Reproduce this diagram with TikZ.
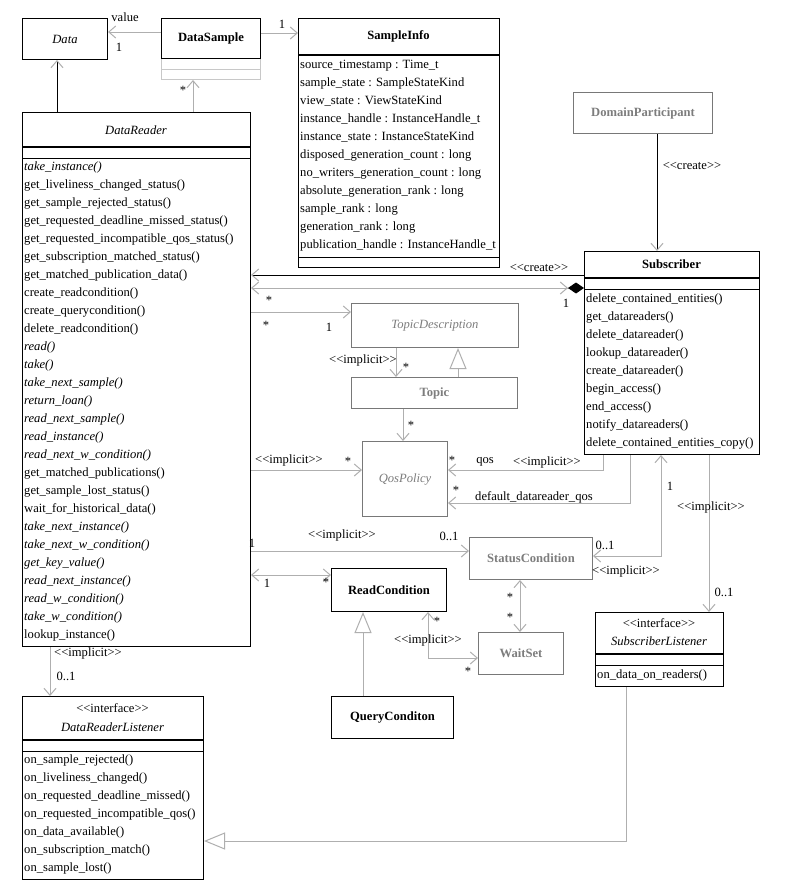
\documentclass[tikz,border=0pt]{standalone}
\usepackage{fontspec}
\setmainfont{Liberation Serif}
\usetikzlibrary{arrows.meta}
\definecolor{linegray}{RGB}{175,175,175}
\definecolor{boxgray}{RGB}{120,120,120}
\definecolor{textgray}{RGB}{125,125,125}
\definecolor{compgray}{RGB}{200,200,200}
\newcommand{\stereo}[1]{\textless\kern0pt\textless#1\textgreater\kern0pt\textgreater}
\newcommand{\uml}{\fontsize{12.6}{15}\selectfont}

\tikzset{
  box/.style={draw, line width=1pt, inner sep=0pt, anchor=north west},
  bbold/.style={box, font=\uml\bfseries},
  greybox/.style={box, draw=boxgray, text=textgray},
  gbold/.style={greybox, font=\uml\bfseries},
  gital/.style={greybox, font=\uml\itshape},
  lbl/.style={inner sep=0pt, font=\uml},
  ttl/.style={lbl, font=\uml\bfseries},
  ttlit/.style={lbl, font=\uml\itshape},
  op/.style={lbl, anchor=base west},
  headline/.style={line width=2.2pt},
  rule/.style={line width=1pt},
  con/.style={draw=linegray, line width=1pt},
  blk/.style={draw=black, line width=1pt},
  nav/.style={-{Straight Barb[length=7pt,width=12pt,color=linegray]}},
  bnav/.style={{Straight Barb[length=7pt,width=12pt,color=linegray]}-{Straight Barb[length=7pt,width=12pt,color=linegray]}},
  gen/.style={-{Triangle[open,length=21pt,width=17pt,fill=white,color=linegray]}},
}

\begin{document}
\begin{tikzpicture}[x=1pt, y=-1pt]
\fill[white] (0,0) rectangle (789,886);
\useasboundingbox (0,0) rectangle (789,886);

% classes
\node[box, font=\uml\itshape, minimum width=85, minimum height=41] (data) at (22,18) {Data};
\node[box, draw=compgray, minimum width=99, minimum height=21] (sampleC) at (161,58) {};
\draw[compgray, rule] (sampleC.west) -- (sampleC.east);
\node[bbold, minimum width=99, minimum height=40] (sample) at (161,18) {DataSample};

\node[box, minimum width=201, minimum height=249] (info) at (298,18) {};
\node[ttl] (infoT) at (398.5,36) {SampleInfo};
\draw[headline] (info.west |- 0,55) -- (info.east |- 0,55);
\draw[rule] (info.west |- 0,257) -- (info.east |- 0,257);
\foreach \a [count=\i from 0] in {source\_timestamp : Time\_t, sample\_state : SampleStateKind,
  view\_state : ViewStateKind, instance\_handle : InstanceHandle\_t, instance\_state : InstanceStateKind,
  disposed\_generation\_count : long, no\_writers\_generation\_count : long,
  absolute\_generation\_rank : long, sample\_rank : long, generation\_rank : long,
  publication\_handle : InstanceHandle\_t}
  \node[op] (info\i) at (300,{68+18*\i}) {\a};

\node[box, minimum width=228, minimum height=534] (reader) at (22,112) {};
\node[ttlit] (readerT) at (136,130) {DataReader};
\draw[headline] (reader.west |- 0,147) -- (reader.east |- 0,147);
\draw[rule] (reader.west |- 0,158) -- (reader.east |- 0,158);
\foreach \m [count=\i from 0] in {\textit{take\_instance()}, get\_liveliness\_changed\_status(),
  get\_sample\_rejected\_status(), get\_requested\_deadline\_missed\_status(),
  get\_requested\_incompatible\_qos\_status(), get\_subscription\_matched\_status(),
  get\_matched\_publication\_data(), create\_readcondition(), create\_querycondition(),
  delete\_readcondition(), \textit{read()}, \textit{take()}, \textit{take\_next\_sample()},
  \textit{return\_loan()}, \textit{read\_next\_sample()}, \textit{read\_instance()},
  \textit{read\_next\_w\_condition()}, get\_matched\_publications(), get\_sample\_lost\_status(),
  wait\_for\_historical\_data(), \textit{take\_next\_instance()}, \textit{take\_next\_w\_condition()},
  \textit{get\_key\_value()}, \textit{read\_next\_instance()}, \textit{read\_w\_condition()},
  \textit{take\_w\_condition()}, lookup\_instance()}
  \node[op] (rop\i) at (24,{170+18*\i}) {\m};

\node[gbold, minimum width=139, minimum height=41] (dp) at (573,92) {DomainParticipant};

\node[box, minimum width=175, minimum height=203] (sub) at (584,251) {};
\node[ttl] (subT) at (671.5,264) {Subscriber};
\draw[headline] (sub.west |- 0,278) -- (sub.east |- 0,278);
\draw[rule] (sub.west |- 0,289) -- (sub.east |- 0,289);
\foreach \m [count=\i from 0] in {delete\_contained\_entities(), get\_datareaders(),
  delete\_datareader(), lookup\_datareader(), create\_datareader(), begin\_access(),
  end\_access(), notify\_datareaders(), delete\_contained\_entities\_copy()}
  \node[op] (sop\i) at (586,{302+18*\i}) {\m};

\node[gital, minimum width=167, minimum height=44] (td) at (351,303) {TopicDescription};
\node[gbold, minimum width=166, minimum height=31] (topic) at (351,377) {Topic};
\node[gital, minimum width=85, minimum height=75] (qos) at (362,441) {QosPolicy};
\node[gbold, minimum width=123, minimum height=42] (sc) at (469,537) {StatusCondition};
\node[bbold, minimum width=115, minimum height=43] (rc) at (331,568) {ReadCondition};
\node[bbold, minimum width=122, minimum height=42] (qc) at (331,696) {QueryConditon};
\node[gbold, minimum width=85, minimum height=42] (ws) at (478,632) {WaitSet};

\node[box, minimum width=128, minimum height=74] (sl) at (595,612) {};
\node[lbl] (slS) at (659,623) {\stereo{interface}};
\node[ttlit] (slT) at (659,641) {SubscriberListener};
\draw[headline] (sl.west |- 0,654) -- (sl.east |- 0,654);
\draw[rule] (sl.west |- 0,665) -- (sl.east |- 0,665);
\node[op] (slop0) at (597,678) {on\_data\_on\_readers()};

\node[box, minimum width=181, minimum height=183] (drl) at (22,696) {};
\node[lbl] (drlS) at (112.5,708) {\stereo{interface}};
\node[ttlit] (drlT) at (112.5,727) {DataReaderListener};
\draw[headline] (drl.west |- 0,740) -- (drl.east |- 0,740);
\draw[rule] (drl.west |- 0,751) -- (drl.east |- 0,751);
\foreach \m [count=\i from 0] in {on\_sample\_rejected(), on\_liveliness\_changed(),
  on\_requested\_deadline\_missed(), on\_requested\_incompatible\_qos(), on\_data\_available(),
  on\_subscription\_match(), on\_sample\_lost()}
  \node[op] (dop\i) at (24,{763+18*\i}) {\m};

% connectors
\draw[con, nav] (sample.west |- 0,32) -- (data.east |- 0,32);
\node[lbl] (lValue) at (125,17) {value};
\node[lbl] (lDataOne) at (119,47) {1};
\draw[con, nav] (sample.east |- 0,33) -- (info.west |- 0,33);
\node[lbl] (lInfoOne) at (282,24) {1};
\draw[blk, nav] (reader.north -| 57,0) -- (data.south -| 57,0);
\draw[con, nav] (reader.north -| 193,0) -- (sampleC.south -| 193,0);
\node[lbl] (lSampleMany) at (183,90) {*};

\draw[blk, nav] (dp.south -| 657,0) -- (sub.north -| 657,0);
\node[lbl] (lCreateS) at (692,166) {\stereo{create}};
\draw[blk, nav] (sub.west |- 0,275) -- (reader.east |- 0,275);
\node[lbl] (lCreateR) at (539,268) {\stereo{create}};
\draw[con, {Straight Barb[length=7pt,width=12pt,color=linegray]}-{Straight Barb[length=7pt,width=12pt,color=linegray] Diamond[length=16pt,width=11pt,color=black,fill=black]}]
  (reader.east |- 0,288) -- (sub.west |- 0,288);
\node[lbl] (lReaderMany) at (269,300) {*};
\node[lbl] (lSubOne) at (566,303) {1};

\draw[con, nav] (reader.east |- 0,312) -- (td.west |- 0,312);
\node[lbl] (lTdMany) at (266,325) {*};
\node[lbl] (lTdOne) at (329,327) {1};
\draw[con, nav] (td.south -| 396,0) -- (topic.north -| 396,0);
\node[lbl] (lTopicImp) at (363,360) {\stereo{implicit}};
\node[lbl] (lTopicMany) at (406,367) {*};
\draw[con, gen] (topic.north -| 458,0) -- (td.south -| 458,0);
\draw[con, nav] (topic.south -| 403,0) -- (qos.north -| 403,0);
\node[lbl] (lQosTopic) at (411,425) {*};

\draw[con, nav] (reader.east |- 0,470) -- (qos.west |- 0,470);
\node[lbl] (lQosImp) at (289,460) {\stereo{implicit}};
\node[lbl] (lQosMany) at (348,461) {*};
\draw[con, nav] (sub.south -| 603,0) |- (qos.east |- 0,470);
\node[lbl] (lQosSubMany) at (452,460) {*};
\node[lbl] (lQosName) at (485,462) {qos};
\node[lbl] (lQosSubImp) at (547,462) {\stereo{implicit}};
\draw[con, nav] (sub.south -| 630,0) |- (qos.east |- 0,503);
\node[lbl] (lDefMany) at (456,490) {*};
\node[lbl, anchor=west] (lDefName) at (475,497) {default\_datareader\_qos};

\draw[con, nav] (reader.east |- 0,551) -- (sc.west |- 0,551);
\node[lbl] (lScOne) at (252,543) {1};
\node[lbl] (lScImp) at (342,535) {\stereo{implicit}};
\node[lbl] (lScOpt) at (449,536) {0..1};
\draw[con, bnav] (reader.east |- 0,575) -- (rc.west |- 0,575);
\node[lbl] (lRcOne) at (267,583) {1};
\node[lbl] (lRcMany) at (326,582) {*};
\draw[con, gen] (qc.north -| 363,0) -- (rc.south -| 363,0);
\draw[con, bnav] (sc.south -| 520,0) -- (ws.north -| 520,0);
\node[lbl] (lWsTop) at (510,597) {*};
\node[lbl] (lWsBot) at (510,617) {*};
\draw[con, bnav] (rc.south -| 428,0) |- (ws.west |- 0,658);
\node[lbl] (lRcWs) at (437,621) {*};
\node[lbl] (lWsImp) at (428,640) {\stereo{implicit}};
\node[lbl] (lWsMany) at (468,671) {*};

\draw[con, bnav] (sub.south -| 661,0) |- (sc.east |- 0,556);
\node[lbl] (lSubScOne) at (670,486) {1};
\node[lbl] (lSubScOpt) at (605,545) {0..1};
\node[lbl] (lSubScImp) at (626,571) {\stereo{implicit}};
\draw[con, nav] (sub.south -| 709,0) -- (sl.north -| 709,0);
\node[lbl] (lSlImp) at (711,507) {\stereo{implicit}};
\node[lbl] (lSlOpt) at (724,592) {0..1};
\draw[con, gen] (sl.south -| 626,0) |- (drl.east |- 0,841);
\draw[con, nav] (reader.south -| 50,0) -- (drl.north -| 50,0);
\node[lbl] (lDrlImp) at (88,653) {\stereo{implicit}};
\node[lbl] (lDrlOpt) at (66,676) {0..1};
\end{tikzpicture}
\end{document}
